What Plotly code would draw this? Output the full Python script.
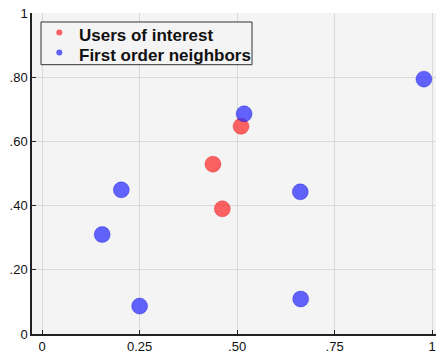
import plotly.graph_objects as go

# Users of interest (red) and their first order neighbors (blue)
users_x = [0.510, 0.438, 0.462]
users_y = [0.647, 0.529, 0.390]
neighbors_x = [0.518, 0.979, 0.203, 0.662, 0.154, 0.250, 0.663]
neighbors_y = [0.686, 0.794, 0.449, 0.443, 0.310, 0.087, 0.109]

x_ticks = [0, 0.25, 0.5, 0.75, 1]
x_labels = ["0", "0.25", ".50", ".75", "1"]
y_ticks = [0, 0.2, 0.4, 0.6, 0.8, 1]
y_labels = ["0", ".20", ".40", ".60", ".80", "1"]

series_names = ["Users of interest", "First order neighbors"]

red = "rgba(255,40,40,0.72)"
blue = "rgba(40,40,255,0.72)"
colors = [red, blue]

fig = go.Figure()
fig.add_trace(go.Scatter(x=users_x, y=users_y, mode="markers", name=series_names[0], showlegend=False,
                         marker=dict(size=16, color=red, line=dict(width=0.5, color="rgba(200,0,0,0.6)"))))
fig.add_trace(go.Scatter(x=neighbors_x, y=neighbors_y, mode="markers", name=series_names[1], showlegend=False,
                         marker=dict(size=16, color=blue, line=dict(width=0.5, color="rgba(0,0,200,0.6)"))))

axis_common = dict(showgrid=True, gridcolor="#d9d9d9", gridwidth=1, zeroline=False,
                   showline=True, linecolor="#222", linewidth=1.5, ticks="inside",
                   ticklen=4, tickcolor="#222", tickfont=dict(family="Liberation Sans", size=13, color="#111"))

# Compact legend box drawn in plot-area (paper) coordinates
legend_box = dict(x0=0.0223, x1=0.5446, y0=0.839, y1=0.972)
row_y = [0.935, 0.873]
shapes = [dict(type="rect", xref="paper", yref="paper", **legend_box,
               line=dict(color="#333", width=1), fillcolor="#f4f4f4", layer="above")]
annotations = []
for name, col, ry in zip(series_names, colors, row_y):
    shapes.append(dict(type="circle", xref="paper", yref="paper", xsizemode="pixel", ysizemode="pixel",
                       xanchor=0.0676, yanchor=ry + 0.004, x0=-3, x1=3, y0=-3, y1=3,
                       fillcolor=col, line=dict(width=0), layer="above"))
    annotations.append(dict(xref="paper", yref="paper", x=0.112, y=ry - 0.004, xanchor="left", yanchor="middle",
                            text=f"<b>{name}</b>", showarrow=False,
                            font=dict(family="Liberation Sans", size=17, color="#111")))

fig.update_layout(
    width=438, height=356,
    margin=dict(l=32, r=2, t=13, b=20),
    paper_bgcolor="white", plot_bgcolor="#f4f4f4",
    xaxis=dict(range=[-0.026, 1.01], tickvals=x_ticks, ticktext=x_labels, **axis_common),
    yaxis=dict(range=[0, 1], tickvals=y_ticks, ticktext=y_labels, **axis_common),
    shapes=shapes, annotations=annotations, showlegend=False,
)

fig.write_html("out.html")
